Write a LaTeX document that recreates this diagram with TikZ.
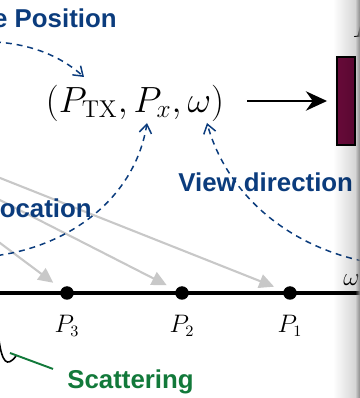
\documentclass[tikz,border=0pt]{standalone}
\usepackage{amsmath}
\usepackage{fontspec}
\setsansfont{Liberation Sans}
\usepackage{tikz}
\usetikzlibrary{arrows.meta,positioning,fadings}
\definecolor{rtnavy}  {HTML}{0B3C7D}
\definecolor{rtgreen} {HTML}{12793A}
\definecolor{rtwine}  {HTML}{6B0A3B}
\definecolor{rtgray}  {HTML}{C8C8C8}
\tikzset{
  rtlabel/.style={font=\sffamily\bfseries\fontsize{14.7}{17}\selectfont, text=rtnavy,
                  inner sep=0pt},
  rtdash/.style={-{Straight Barb[length=5pt,width=7pt]}, draw=rtnavy,
                 dash pattern=on 3.4pt off 2.8pt, line width=0.85pt},
  rtray/.style={-{Triangle[length=8.5pt,width=8pt]}, draw=rtgray, fill=rtgray,
                line width=1.2pt, shorten >=0.2cm},
  rtaxis/.style={line width=1.9pt},
  rtpoint/.style={circle, fill=black, inner sep=0pt, minimum size=0.27cm},
  rtplabel/.style={font=\fontsize{13.5}{16}\selectfont, inner sep=0pt},
  rtflow/.style={-{Stealth[length=12pt,width=11pt]}, line width=1.5pt},
  rtbox/.style={draw=black, fill=rtwine, line width=1.1pt, minimum width=0.36cm,
                minimum height=1.76cm, inner sep=0pt},
  rtshade/.style={path fading=west},
}

\begin{document}
\begin{tikzpicture}
  \useasboundingbox (0,0) rectangle (7.18,7.96);

  % axis with the sample points
  \coordinate (axL) at (-0.1,2.10);
  \coordinate (axR) at (7.3,2.10);
  \node[rtpoint] (P3) at (1.34,2.10) {};
  \node[rtpoint] (P2) at (3.64,2.10) {};
  \node[rtpoint] (P1) at (5.80,2.10) {};
  \node[rtplabel, below=0.29cm of P3] (L3) {$P_3$};
  \node[rtplabel, below=0.29cm of P2] (L2) {$P_2$};
  \node[rtplabel, below=0.29cm of P1] (L1) {$P_1$};
  \node[rtplabel, anchor=base west] (wlabel) at (6.86,2.24) {$\omega$};

  % incoming rays
  \coordinate (s1) at (-0.2,4.48);
  \coordinate (s2) at (-0.2,4.06);
  \coordinate (s3) at (-0.2,3.25);
  \draw[rtray] (s1) -- (P1);
  \draw[rtray] (s2) -- (P2);
  \draw[rtray] (s3) -- (P3);
  \draw[rtaxis] (axL) -- (axR);

  % input tuple and network
  \node[font=\fontsize{19.8}{24}\selectfont, inner sep=0pt] (tuple) at (2.70,5.90) {$(P_{\mathrm{TX}}, P_x, \omega)$};
  \node[rtbox] (net) at (6.92,5.94) {};
  \node[font=\fontsize{19.8}{24}\selectfont, anchor=base west, inner sep=0pt] (netname) at (7.04,7.20) {$F$};
  \draw[rtflow] ([xshift=0.46cm]tuple.east |- net.west) -- ([xshift=-0.18cm]net.west);

  % labels
  \node[rtlabel, anchor=base east] (srcpos) at (2.34,7.40) {e Position};
  \node[rtlabel, anchor=base east] (rxloc) at (1.84,3.60) {ocation};
  \node[rtlabel, anchor=base west] (viewdir) at (3.56,4.12) {View direction};
  \node[rtlabel, text=rtgreen, anchor=base west, inner xsep=0.28cm] (scat) at (1.06,0.20) {Scattering};

  \coordinate (posfrom) at (-0.1,7.12);
  \coordinate (posto) at (1.68,6.42);
  \coordinate (locfrom) at (-0.05,2.85);
  \coordinate (locto) at (2.94,5.50);
  \coordinate (viewfrom) at (7.25,2.74);
  \coordinate (viewto) at (4.14,5.50);
  \draw[rtdash] (posfrom) .. controls (0.6,7.08) and (1.2,6.85) .. (posto);
  \draw[rtdash] (locfrom) .. controls (1.4,3.05) and (2.7,4.0) .. (locto);
  \draw[rtdash] (viewfrom) .. controls (5.6,3.1) and (4.5,4.2) .. (viewto);

  % scattering surface
  \coordinate (scatpt) at (0.20,0.90);
  \draw[line width=0.9pt] (-0.02,1.16) .. controls (0.04,0.72) and (0.14,0.60) .. (0.32,0.84);
  \draw[rtgreen, line width=1.1pt] (scat.north west) -- (scatpt);

  % page shadow
  \fill[black, opacity=0.2, rtshade] (6.66,-0.1) rectangle (7.20,8.1);
  \fill[black!45, rtshade] (7.10,-0.1) rectangle (7.20,8.1);
\end{tikzpicture}
\end{document}
